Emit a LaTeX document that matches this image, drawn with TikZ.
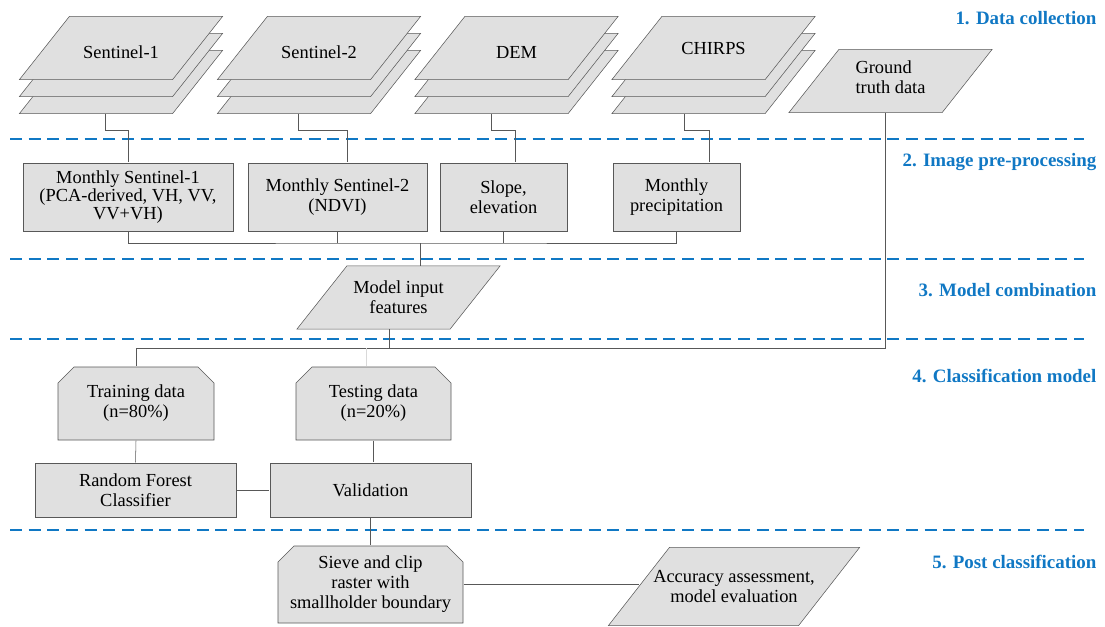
\documentclass[tikz,border=0pt]{standalone}
\usepackage{fontspec}
\setmainfont{Liberation Serif}
\usepackage{xcolor}
\usepackage{tikz}
\usetikzlibrary{shapes.misc,calc,backgrounds}

\definecolor{boxgray}{RGB}{224,224,224}
\definecolor{linegray}{RGB}{88,88,88}
\definecolor{stageblue}{RGB}{16,120,196}

\begin{document}
\begin{tikzpicture}[x=0.75pt,y=-0.75pt,line width=0.9pt,
  every node/.style={font=\fontsize{13.8}{15}\selectfont,inner sep=0pt},
  layer/.style={minimum width=114pt,minimum height=46.5pt,align=center,
    append after command={\pgfextra{\begin{pgfonlayer}{background}
      \draw[draw=linegray,fill=boxgray]
        ([xshift=-#1]\tikzlastnode.south west) -- ([xshift=-#1]\tikzlastnode.south east)
        -- ([xshift=#1]\tikzlastnode.north east) -- ([xshift=#1]\tikzlastnode.north west)
        -- cycle;
      \end{pgfonlayer}}}},
  layer/.default=18.75pt,
  box/.style={draw=linegray,fill=boxgray,align=center},
  cbox/.style={chamfered rectangle,chamfered rectangle corners={north west,north east},
               chamfered rectangle xsep=9pt,draw=linegray,fill=boxgray,align=center},
  stage/.style={anchor=east,text=stageblue,font=\fontsize{14.2}{16}\selectfont\bfseries},
  sep/.style={draw=stageblue,line width=2.2pt,dash pattern=on 9pt off 5pt},
  link/.style={draw=linegray}]
  \useasboundingbox (0,0) rectangle (1105,626);

  % stage separators
  \draw[sep] (10,139) -- (1084,139);
  \draw[sep] (10,259) -- (1084,259);
  \draw[sep] (10,339) -- (1084,339);
  \draw[sep] (10,530) -- (1084,530);

  % stage titles
  \node[stage] (st1) at (1097,18) {1. Data collection};
  \node[stage] (st2) at (1097,162) {2. Image pre-processing};
  \node[stage] (st3) at (1097,290) {3. Model combination};
  \node[stage] (st4) at (1097,376) {4. Classification model};
  \node[stage] (st5) at (1097,562) {5. Post classification};

  % 1. data sources (stacked layers)
  \node[layer] (s1c) at (121,82) {};
  \node[layer] (s1b) at (121,65) {};
  \node[layer] (s1a) at (121,48) {\raisebox{-3.5pt}[\height][\depth]{Sentinel-1}};
  \node[layer] (s2c) at (319,82) {};
  \node[layer] (s2b) at (319,65) {};
  \node[layer] (s2a) at (319,48) {\raisebox{-3.5pt}[\height][\depth]{Sentinel-2}};
  \node[layer] (demc) at (516.5,82) {};
  \node[layer] (demb) at (516.5,65) {};
  \node[layer] (dema) at (516.5,48) {\raisebox{-3pt}[\height][\depth]{DEM}};
  \node[layer] (chc) at (713.5,82) {};
  \node[layer] (chb) at (713.5,65) {};
  \node[layer] (cha) at (713.5,48) {CHIRPS};
  \node[layer,align=left] (gt) at (890.5,81) {\raisebox{2.5pt}[\height][\depth]{Ground}\\
        \raisebox{2.5pt}[\height][\depth]{truth data}};

  % 2. pre-processing
  \node[box,minimum width=157.5pt,minimum height=51pt,
        font=\fontsize{13.8}{13.7}\selectfont] (m1) at (128,197)
        {Monthly Sentinel-1\\(PCA-derived, VH, VV,\\VV+VH)};
  \node[box,minimum width=134.25pt,minimum height=51pt] (m2) at (337.5,197)
        {Monthly Sentinel-2\\(NDVI)};
  \node[box,minimum width=95.25pt,minimum height=51pt] (slope) at (503.5,197)
        {Slope,\\elevation};
  \node[box,minimum width=95.25pt,minimum height=51pt] (prec) at (676.5,197)
        {Monthly\\precipitation};

  % 3. model combination
  \node[layer] (feat) at (398.5,297.5) {Model input\\features};

  % 4. classification
  \node[cbox,minimum width=117pt,minimum height=54.75pt] (train) at (136,403.5)
        {Training data\\(n=80\%)};
  \node[cbox,minimum width=116.25pt,minimum height=54.75pt] (test) at (373.5,403.5)
        {Testing data\\(n=20\%)};
  \node[box,minimum width=150.75pt,minimum height=40.5pt] (rf) at (135.5,490)
        {Random Forest\\Classifier};
  \node[box,minimum width=150.75pt,minimum height=40.5pt] (val) at (370.5,490)
        {Validation};

  % 5. post classification
  \node[cbox,minimum width=138.75pt,minimum height=57.75pt] (sieve) at (370.5,584.5)
        {Sieve and clip\\raster with\\smallholder boundary};
  \node[layer=22.9pt,minimum width=141.75pt,minimum height=57.75pt] (acc) at (734,586.5)
        {Accuracy assessment,\\model evaluation};

  % connectors
  \coordinate (bus) at (420,243);
  \coordinate (split) at (389,348);
  \draw[link] ([xshift=-12pt]s1c.south) -- ++(0,17) -| (m1.north);
  \draw[link] ([xshift=-15.75pt]s2c.south) -- ++(0,17) -| ([xshift=7pt]m2.north);
  \draw[link] ([xshift=-19.1pt]demc.south) -- ++(0,17) -| ([xshift=8.6pt]slope.north);
  \draw[link] ([xshift=-22.1pt]chc.south) -- ++(0,17) -| ([xshift=24.4pt]prec.north);
  \draw[link] (m1.south) |- (bus) -| (prec.south);
  \draw[link] (m2.south) -- (m2.south |- bus);
  \draw[link] (slope.south) -- (slope.south |- bus);
  \draw[link] (bus) -- (bus |- feat.north);
  \draw[link] (split |- feat.south) -- (split);
  \draw[link] ([xshift=-4.1pt]gt.south) |- (split) -| (train.north);
  \draw[gray!30,line width=0.6pt] ([xshift=-5pt]test.north |- split) -- ([xshift=-5pt]test.north);
  \draw[link] (train.south) -- (rf.north);
  \draw[link] (test.south) -- (test.south |- val.north);
  \draw[link] (rf.east) -- (val.west);
  \draw[link] (val.south) -- (sieve.north);
  \draw[link] (sieve.east) -- (sieve.east -| acc.west);
\end{tikzpicture}
\end{document}
